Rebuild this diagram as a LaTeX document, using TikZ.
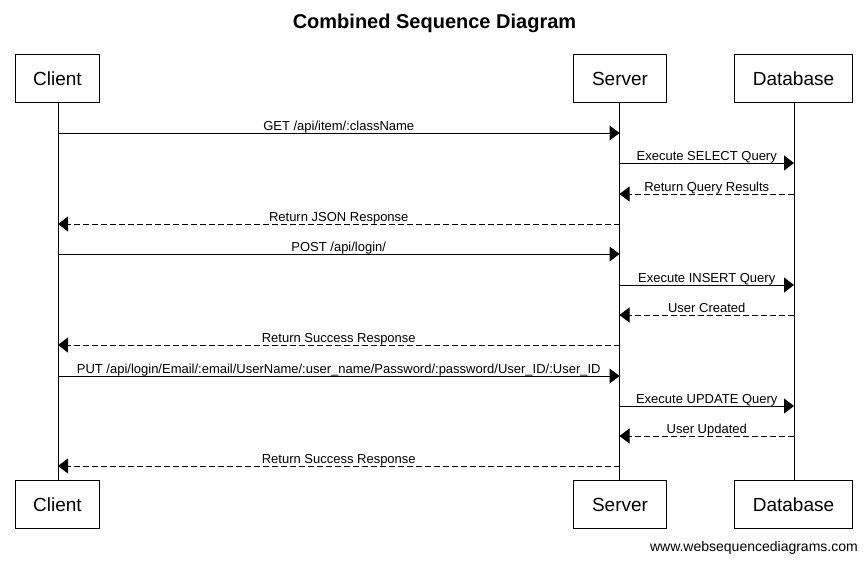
\documentclass[tikz,border=0pt]{standalone}
\usepackage{fontspec}
\setmainfont{Liberation Sans}
\usetikzlibrary{arrows.meta}
\begin{document}
\begin{tikzpicture}[x=1pt,y=-1pt,
  part/.style={draw,line width=1pt,minimum height=48pt,inner sep=0pt,font=\fontsize{19}{22}\selectfont},
  life/.style={line width=1pt},
  msg/.style={line width=1pt,-{Triangle[length=10pt,width=15pt]}},
  ret/.style={msg,dash pattern=on 6pt off 3pt},
  lbl/.style={anchor=base,yshift=3pt,inner sep=0pt,font=\fontsize{13}{15}\selectfont}]
\useasboundingbox (0,0) rectangle (868,563);
\node[font=\bfseries\fontsize{20}{24}\selectfont] (title) at (434.5,23) {Combined Sequence Diagram};
\node[part,minimum width=83.5pt] (ct) at (57.5,78.5) {Client};
\node[part,minimum width=93pt] (st) at (620,78.5) {Server};
\node[part,minimum width=118pt] (dt) at (793.5,78.5) {Database};
\node[part,minimum width=83.5pt] (cb) at (57.5,504.5) {Client};
\node[part,minimum width=93pt] (sb) at (620,504.5) {Server};
\node[part,minimum width=118pt] (db) at (793.5,504.5) {Database};
\draw[life] ([xshift=0.5pt]ct.south) -- ([xshift=0.5pt]cb.north);
\draw[life] ([xshift=-0.5pt]st.south) -- ([xshift=-0.5pt]sb.north);
\draw[life] ([xshift=0.5pt]dt.south) -- ([xshift=0.5pt]db.north);
\foreach \n/\y in {1/133,2/163,3/194,4/224,5/254,6/285,7/315,8/345,9/376,10/406,11/436,12/466}{
  \coordinate (c\n) at (58,\y);
  \coordinate (s\n) at (619.5,\y);
  \coordinate (d\n) at (794,\y);
}
\draw[msg] (c1) -- node[lbl] {GET /api/item/:className} (s1);
\draw[msg] (s2) -- node[lbl] {Execute SELECT Query} (d2);
\draw[ret] (d3) -- node[lbl] {Return Query Results} (s3);
\draw[ret] (s4) -- node[lbl] {Return JSON Response} (c4);
\draw[msg] (c5) -- node[lbl] {POST /api/login/} (s5);
\draw[msg] (s6) -- node[lbl] {Execute INSERT Query} (d6);
\draw[ret] (d7) -- node[lbl] {User Created} (s7);
\draw[ret] (s8) -- node[lbl] {Return Success Response} (c8);
\draw[msg] (c9) -- node[lbl] {PUT /api/login/Email/:email/UserName/:user\_name/Password/:password/User\_ID/:User\_ID} (s9);
\draw[msg] (s10) -- node[lbl] {Execute UPDATE Query} (d10);
\draw[ret] (d11) -- node[lbl] {User Updated} (s11);
\draw[ret] (s12) -- node[lbl] {Return Success Response} (c12);
\node[anchor=east,inner sep=0pt,font=\fontsize{14}{16}\selectfont] (footer) at (858,548) {www.websequencediagrams.com};
\end{tikzpicture}
\end{document}
